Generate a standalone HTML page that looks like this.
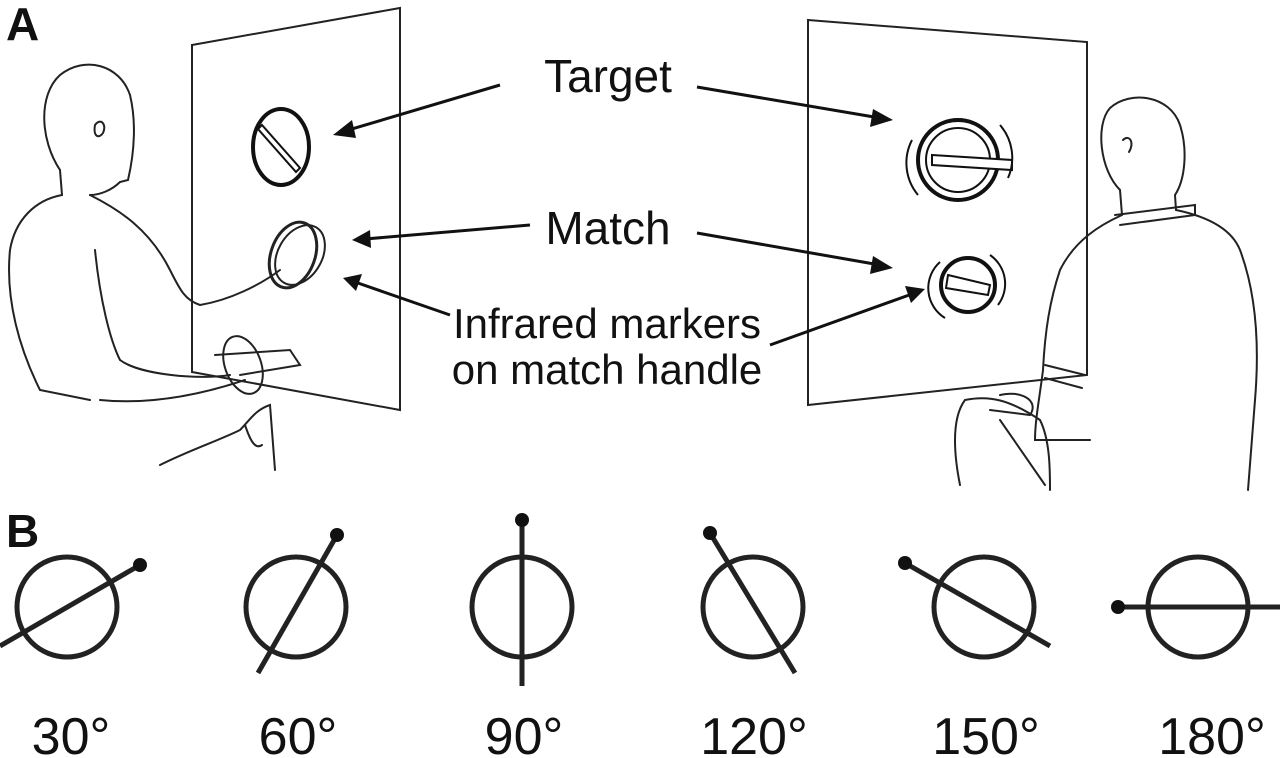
<!DOCTYPE html>
<html><head><meta charset="utf-8"><style>
html,body{margin:0;padding:0;background:#fff;}
svg{display:block}
text{font-family:"Liberation Sans",Arial,sans-serif;fill:#111}
</style></head><body>
<svg width="1280" height="758" viewBox="0 0 1280 758" xmlns="http://www.w3.org/2000/svg">
<text x="6" y="40" font-size="46" font-weight="bold">A</text>
<text x="6" y="547" font-size="46" font-weight="bold">B</text>

<g fill="none" stroke="#222" stroke-width="2">
<path d="M192,45 L400,8 L400,410 L192,372 Z"/>
<path d="M808,20 L1087,42 L1087,375 L808,405 Z"/>
</g>

<g fill="none" stroke="#222" stroke-width="2" stroke-linecap="round">
<path d="M60,170 C40,140 38,95 60,75 C85,55 120,65 130,95 C136,120 135,150 128,180 L120,182 C112,190 100,195 90,195"/>
<path d="M95,125 c6,-8 12,0 8,8 c-4,6 -10,4 -8,-8"/>
<path d="M60,170 L62,195 C35,200 15,220 10,250 C5,300 20,350 40,390 L90,400"/>
<path d="M90,195 C120,210 150,230 170,270 C180,290 185,300 200,305 C230,300 260,285 280,270"/>
<path d="M95,250 C100,300 110,340 120,360 C140,375 200,380 230,375"/>
<path d="M100,400 C150,405 200,395 245,380"/>
<path d="M160,465 C190,450 220,440 240,430 C250,420 255,410 270,405 L275,470"/>
<path d="M245,425 C250,440 255,450 262,445"/>
<path d="M215,355 L290,350 L300,365 L240,375"/>
<ellipse cx="243" cy="365" rx="18" ry="30" transform="rotate(-20 243 365)"/>
<ellipse cx="293" cy="255" rx="22" ry="34" transform="rotate(20 293 255)" stroke-width="3"/>
<ellipse cx="300" cy="255" rx="22" ry="32" transform="rotate(30 300 255)"/>
</g>
<g fill="none" stroke="#111" stroke-width="4">
<ellipse cx="281" cy="147" rx="28" ry="38"/>
</g>
<path d="M262,125 L300,168 L296,172 L258,129 Z" fill="none" stroke="#111" stroke-width="2"/>

<g fill="none" stroke="#222" stroke-width="2" stroke-linecap="round">
<path d="M1120,190 C1100,170 1095,125 1110,108 C1130,90 1170,95 1180,125 C1188,150 1185,180 1175,195 L1176,210"/>
<path d="M1120,190 L1122,215 C1100,225 1075,240 1060,270 C1050,300 1045,330 1043,370 C1040,395 1035,420 1035,440 L1090,440"/>
<path d="M1176,210 C1200,215 1230,225 1240,250 C1255,290 1260,340 1255,400 L1248,490"/>
<path d="M1115,215 L1195,205 L1195,215 L1120,225"/>
<path d="M1045,365 L1085,375 M1045,378 L1082,388"/>
<path d="M1000,395 C1020,390 1040,400 1030,415 L990,410"/>
<path d="M965,400 C950,420 955,460 960,485 M965,400 C990,395 1010,400 1040,420 C1050,440 1050,470 1050,490"/>
<path d="M1000,420 L1045,485"/>
<path d="M1123,140 c6,-6 12,2 6,12"/>
</g>
<g fill="none" stroke="#111">
<circle cx="958" cy="160" r="40" stroke-width="4"/>
<circle cx="958" cy="160" r="32" stroke-width="2"/>
<path d="M932,155 L1012,160 L1012,170 L932,165 Z" stroke-width="2" fill="#fff"/>
<path d="M912,140 A50,50 0 0,0 918,195" stroke-width="2"/>
<path d="M1000,125 A50,50 0 0,1 1008,178" stroke-width="2"/>
<circle cx="968" cy="285" r="27" stroke-width="4"/>
<path d="M948,275 L990,285 L988,295 L946,288 Z" stroke-width="2" fill="#fff"/>
<path d="M940,262 A35,35 0 0,0 945,318" stroke-width="2"/>
<path d="M990,255 A35,35 0 0,1 998,305" stroke-width="2"/>
</g>

<text x="608" y="92" font-size="46" text-anchor="middle">Target</text>
<text x="608" y="244" font-size="46" text-anchor="middle">Match</text>
<text x="607" y="338" font-size="42" text-anchor="middle">Infrared markers</text>
<text x="607" y="384" font-size="42" text-anchor="middle">on match handle</text>

<g stroke="#111" stroke-width="3">
<line x1="500" y1="85" x2="345" y2="131"/>
<line x1="697" y1="87" x2="880" y2="118"/>
<line x1="530" y1="225" x2="365" y2="239"/>
<line x1="697" y1="233" x2="880" y2="265"/>
<line x1="450" y1="315" x2="355" y2="282"/>
<line x1="770" y1="345" x2="912" y2="294"/>
</g>
<g fill="#111">
<polygon points="333,135 352,120 356,138"/>
<polygon points="893,120 873,109 870,127"/>
<polygon points="352,240 370,230 371,248"/>
<polygon points="893,268 873,256 870,274"/>
<polygon points="343,278 362,274 356,291"/>
<polygon points="925,289 905,286 911,303"/>
</g>

<g fill="none" stroke="#222" stroke-width="5">
<circle cx="67" cy="607" r="50"/>
<circle cx="296" cy="607" r="50"/>
<circle cx="522" cy="607" r="50"/>
<circle cx="753" cy="607" r="50"/>
<circle cx="984" cy="607" r="50"/>
<circle cx="1198" cy="607" r="50"/>
<line x1="0" y1="646" x2="140" y2="565"/>
<line x1="337" y1="535" x2="258" y2="673"/>
<line x1="522" y1="520" x2="522" y2="686"/>
<line x1="710" y1="533" x2="795" y2="673"/>
<line x1="905" y1="563" x2="1050" y2="646"/>
<line x1="1118" y1="607" x2="1280" y2="607"/>
</g>
<g fill="#111">
<circle cx="140" cy="565" r="7"/>
<circle cx="337" cy="535" r="7"/>
<circle cx="522" cy="520" r="7"/>
<circle cx="710" cy="533" r="7"/>
<circle cx="905" cy="563" r="7"/>
<circle cx="1118" cy="607" r="7"/>
</g>
<g font-size="52" text-anchor="middle">
<text x="71" y="754">30°</text>
<text x="298" y="754">60°</text>
<text x="524" y="754">90°</text>
<text x="754" y="754">120°</text>
<text x="986" y="754">150°</text>
<text x="1212" y="754">180°</text>
</g>
</svg>
</body></html>
